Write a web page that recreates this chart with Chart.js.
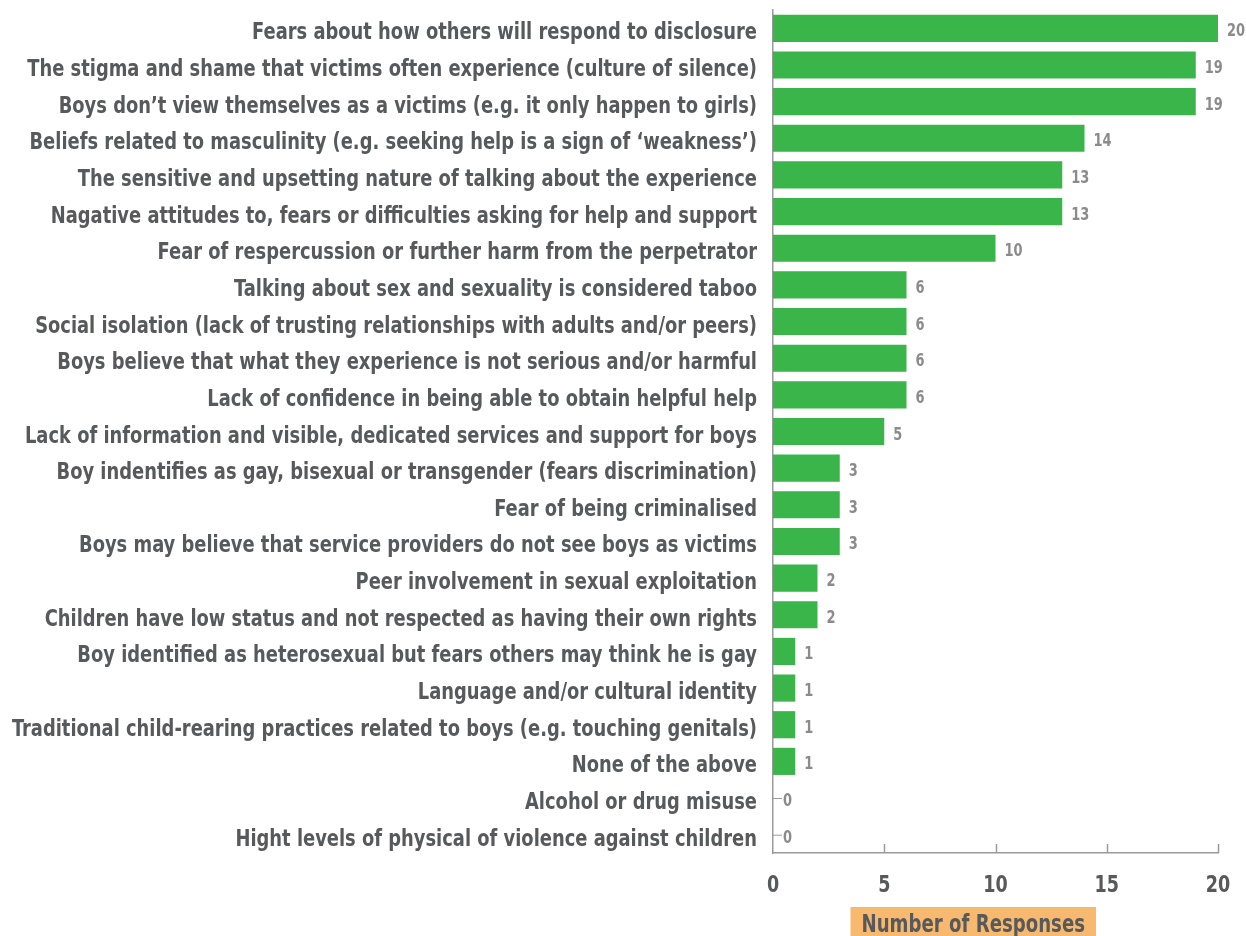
<!DOCTYPE html>
<html>
<head>
<meta charset="utf-8">
<script src="https://cdn.jsdelivr.net/npm/chart.js@4"></script>
<style>
  html, body { margin: 0; padding: 0; background: #fff; }
  #wrap { width: 1246px; height: 936px; position: relative; }
</style>
</head>
<body>
<div id="wrap"><canvas id="barriers"></canvas></div>
<script>
const labels = [
  'Fears about how others will respond to disclosure',
  'The stigma and shame that victims often experience (culture of silence)',
  'Boys don\u2019t view themselves as a victims (e.g. it only happen to girls)',
  'Beliefs related to masculinity (e.g. seeking help is a sign of \u2018weakness\u2019)',
  'The sensitive and upsetting nature of talking about the experience',
  'Nagative attitudes to, fears or difficulties asking for help and support',
  'Fear of respercussion or further harm from the perpetrator',
  'Talking about sex and sexuality is considered taboo',
  'Social isolation (lack of trusting relationships with adults and/or peers)',
  'Boys believe that what they experience is not serious and/or harmful',
  'Lack of confidence in being able to obtain helpful help',
  'Lack of information and visible, dedicated services and support for boys',
  'Boy indentifies as gay, bisexual or transgender (fears discrimination)',
  'Fear of being criminalised',
  'Boys may believe that service providers do not see boys as victims',
  'Peer involvement in sexual exploitation',
  'Children have low status and not respected as having their own rights',
  'Boy identified as heterosexual but fears others may think he is gay',
  'Language and/or cultural identity',
  'Traditional child-rearing practices related to boys (e.g. touching genitals)',
  'None of the above',
  'Alcohol or drug misuse',
  'Hight levels of physical of violence against children'
];
const responses = [20, 19, 19, 14, 13, 13, 10, 6, 6, 6, 6, 5, 3, 3, 3, 2, 2, 1, 1, 1, 1, 0, 0];
const xTicks = [0, 5, 10, 15, 20];
const axisTitle = 'Number of Responses';

const FONT = '"DejaVu Sans Condensed", "DejaVu Sans", sans-serif';
const textGrey = '#58595b';
const valueGrey = '#8b8b8d';
const axisGrey = '#9a9a9a';

// squeeze wide text horizontally so it reads like a narrow gothic face
function narrowText(ctx, text, x, y, squeeze) {
  ctx.save();
  ctx.translate(x, y);
  ctx.scale(squeeze, 1);
  ctx.fillText(text, 0, 0);
  ctx.restore();
}

// category names, right aligned against the axis
const categoryLabels = {
  id: 'categoryLabels',
  afterDraw(chart) {
    const ctx = chart.ctx;
    const meta = chart.getDatasetMeta(0);
    const right = chart.chartArea.left - 16;
    ctx.save();
    ctx.font = 'bold 23px ' + FONT;
    ctx.fillStyle = textGrey;
    ctx.textAlign = 'right';
    ctx.textBaseline = 'alphabetic';
    const widest = Math.max(...labels.map(l => ctx.measureText(l).width));
    const squeeze = Math.min(1, (right - 12) / widest);
    meta.data.forEach((bar, i) => {
      narrowText(ctx, labels[i], right, bar.y + 11, squeeze);
    });
    ctx.restore();
  }
};

// value at the end of each bar, with a small leader for the empty ones
const valueLabels = {
  id: 'valueLabels',
  afterDatasetsDraw(chart) {
    const ctx = chart.ctx;
    const meta = chart.getDatasetMeta(0);
    const x0 = chart.scales.x.getPixelForValue(0);
    ctx.save();
    ctx.font = 'bold 17px ' + FONT;
    ctx.fillStyle = valueGrey;
    ctx.textBaseline = 'alphabetic';
    ctx.textAlign = 'left';
    meta.data.forEach((bar, i) => {
      const v = responses[i];
      let x = bar.x + 9;
      if (v === 0) {
        ctx.strokeStyle = axisGrey;
        ctx.lineWidth = 1;
        ctx.beginPath();
        ctx.moveTo(x0, bar.y + 0.5);
        ctx.lineTo(x0 + 9, bar.y + 0.5);
        ctx.stroke();
        x = x0 + 10;
      }
      narrowText(ctx, String(v), x, bar.y + 8, 0.85);
    });
    ctx.restore();
  }
};

// inward tick marks on the value axis, its numbers and the highlighted title
const axisExtras = {
  id: 'axisExtras',
  afterDraw(chart) {
    const ctx = chart.ctx;
    const xs = chart.scales.x;
    const bottom = chart.chartArea.bottom;
    ctx.save();
    ctx.strokeStyle = axisGrey;
    ctx.lineWidth = 1.5;
    xs.ticks.forEach(t => {
      if (t.value === 0) return;
      const px = Math.round(xs.getPixelForValue(t.value)) + 0.5;
      ctx.beginPath();
      ctx.moveTo(px, bottom);
      ctx.lineTo(px, bottom - 9);
      ctx.stroke();
    });
    ctx.fillStyle = textGrey;
    ctx.textAlign = 'center';
    ctx.textBaseline = 'alphabetic';
    ctx.font = 'bold 23px ' + FONT;
    xs.ticks.forEach(t => {
      narrowText(ctx, String(t.value), xs.getPixelForValue(t.value), bottom + 39, 0.85);
    });
    // title box sits a little left of the axis centre
    const cx = xs.left + (xs.right - xs.left) * 0.45;
    ctx.font = 'bold 24px ' + FONT;
    const squeeze = 0.84;
    const w = ctx.measureText(axisTitle).width * squeeze + 22;
    ctx.fillStyle = '#f7b96f';
    ctx.fillRect(cx - w / 2, 907, w, 29);
    ctx.fillStyle = textGrey;
    narrowText(ctx, axisTitle, cx, 932, squeeze);
    ctx.restore();
  }
};

new Chart(document.getElementById('barriers'), {
  type: 'bar',
  data: {
    labels: labels,
    datasets: [{
      data: responses,
      backgroundColor: '#3ab54a',
      borderWidth: 0,
      categoryPercentage: 1,
      barPercentage: 0.74
    }]
  },
  options: {
    indexAxis: 'y',
    responsive: true,
    maintainAspectRatio: false,
    animation: false,
    layout: { padding: { top: 10, right: 28, bottom: 0, left: 0 } },
    plugins: {
      legend: { display: false },
      tooltip: { enabled: false }
    },
    scales: {
      x: {
        min: 0,
        max: 20,
        afterBuildTicks: axis => { axis.ticks = xTicks.map(v => ({ value: v })); },
        afterFit: axis => { axis.height = 83; },
        grid: { display: false, drawTicks: false },
        border: { display: true, color: axisGrey, width: 1.5 },
        ticks: { display: false }
      },
      y: {
        afterFit: axis => { axis.width = 773; },
        grid: { display: false, drawTicks: false },
        border: { display: true, color: axisGrey, width: 1.5 },
        ticks: { display: false, autoSkip: false }
      }
    }
  },
  plugins: [valueLabels, categoryLabels, axisExtras]
});
</script>
</body>
</html>
